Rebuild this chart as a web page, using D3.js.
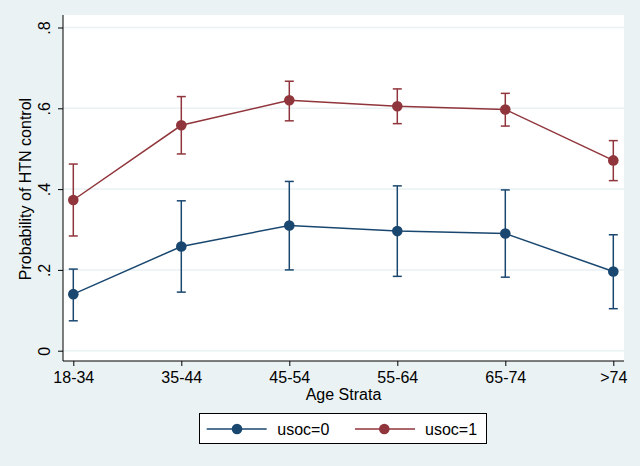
<!DOCTYPE html>
<html><head><meta charset="utf-8">
<script src="https://cdn.jsdelivr.net/npm/d3@7"></script>
<style>
html,body{margin:0;padding:0;background:#eaf2f3;}
svg{display:block;font-family:"Liberation Sans",Arial,Helvetica,sans-serif;}
</style></head>
<body>
<svg id="c" width="640" height="466"></svg>
<script>
const categories = ["18-34","35-44","45-54","55-64","65-74",">74"];
const usoc0 = [0.140,0.258,0.310,0.296,0.290,0.196];
const usoc0Lo = [0.074,0.145,0.200,0.184,0.182,0.104];
const usoc0Hi = [0.202,0.371,0.419,0.408,0.398,0.287];
const usoc1 = [0.373,0.558,0.620,0.605,0.597,0.471];
const usoc1Lo = [0.284,0.487,0.569,0.562,0.556,0.421];
const usoc1Hi = [0.462,0.629,0.667,0.648,0.637,0.520];
const yTicks = [0,0.2,0.4,0.6,0.8];
const yTickLabels = ["0",".2",".4",".6",".8"];
const seriesNames = ["usoc=0","usoc=1"];
const colors = ["#1a476f","#90353b"];

const svg = d3.select("#c");
const W=640,H=466;
svg.append("rect").attr("width",W).attr("height",H).attr("fill","#eaf2f3");
const plot = {l:63,r:624,t:15,b:361};
svg.append("rect").attr("x",plot.l).attr("y",plot.t).attr("width",plot.r-plot.l).attr("height",plot.b-plot.t).attr("fill","#ffffff");

const x = d3.scaleLinear().domain([0,categories.length-1]).range([73.3,613.3]);
const y = d3.scaleLinear().domain([0,0.8]).range([350.7,27.5]);

// gridlines
svg.append("g").selectAll("line").data(yTicks).join("line")
  .attr("x1",plot.l).attr("x2",plot.r).attr("y1",d=>y(d)).attr("y2",d=>y(d))
  .attr("stroke","#eaf2f3").attr("stroke-width",1.5);

// y axis
const yAxis = d3.axisLeft(y).tickValues(yTicks).tickFormat((d,i)=>yTickLabels[i]).tickSize(5);
const gy = svg.append("g").attr("transform",`translate(${plot.l},0)`).call(yAxis);
gy.select(".domain").attr("d",`M0,${plot.t}V${plot.b}`).attr("stroke","#000").attr("stroke-width",1);
gy.selectAll(".tick line").attr("stroke","#000");
gy.selectAll(".tick text").attr("font-size",16).attr("fill","#000")
  .attr("text-anchor","middle").attr("x",0).attr("y",0).attr("dy","0.35em")
  .attr("transform","translate(-19,0) rotate(-90)");

// x axis
const xAxis = d3.axisBottom(x).tickValues(d3.range(categories.length)).tickFormat(i=>categories[i]).tickSize(5).tickPadding(6);
const gx = svg.append("g").attr("transform",`translate(0,${plot.b})`).call(xAxis);
gx.select(".domain").attr("d",`M${plot.l},0H${plot.r}`).attr("stroke","#000").attr("stroke-width",1);
gx.selectAll(".tick line").attr("stroke","#000");
gx.selectAll(".tick text").attr("font-size",16).attr("fill","#000");

// axis titles
svg.append("text").attr("x",343.5).attr("y",400).attr("text-anchor","middle").attr("font-size",16).attr("fill","#000").text("Age Strata");
svg.append("text").attr("transform","translate(25,189) rotate(-90)").attr("text-anchor","middle").attr("dy","0.35em").attr("font-size",16).attr("fill","#000").text("Probability of HTN control");

// series
const series = [
  {v:usoc0,lo:usoc0Lo,hi:usoc0Hi,c:colors[0]},
  {v:usoc1,lo:usoc1Lo,hi:usoc1Hi,c:colors[1]}
];
const line = d3.line().x((d,i)=>x(i)).y(d=>y(d));
series.forEach(s=>{
  const g = svg.append("g");
  s.v.forEach((v,i)=>{
    const cx=x(i);
    g.append("line").attr("x1",cx).attr("x2",cx).attr("y1",y(s.lo[i])).attr("y2",y(s.hi[i])).attr("stroke",s.c).attr("stroke-width",1.5);
    [s.lo[i],s.hi[i]].forEach(e=>{
      g.append("line").attr("x1",cx-4.5).attr("x2",cx+4.5).attr("y1",y(e)).attr("y2",y(e)).attr("stroke",s.c).attr("stroke-width",1.5);
    });
  });
  g.append("path").attr("d",line(s.v)).attr("fill","none").attr("stroke",s.c).attr("stroke-width",1.5);
  g.selectAll("circle").data(s.v).join("circle").attr("cx",(d,i)=>x(i)).attr("cy",d=>y(d)).attr("r",5.3).attr("fill",s.c);
});

// legend
const lg = svg.append("g");
lg.append("rect").attr("x",199.5).attr("y",413.5).attr("width",287).attr("height",30).attr("fill","#fff").attr("stroke","#000").attr("stroke-width",1);
const lx = [[206.7,266.7,237,277.3],[355,415,384.3,425]];
seriesNames.forEach((n,i)=>{
  const [a,b,m,t]=lx[i];
  lg.append("line").attr("x1",a).attr("x2",b).attr("y1",429).attr("y2",429).attr("stroke",colors[i]).attr("stroke-width",1.5);
  lg.append("circle").attr("cx",m).attr("cy",429).attr("r",5.3).attr("fill",colors[i]);
  lg.append("text").attr("x",t).attr("y",429).attr("dy","0.35em").attr("font-size",16).attr("fill","#000").text(n);
});
</script>
</body></html>
